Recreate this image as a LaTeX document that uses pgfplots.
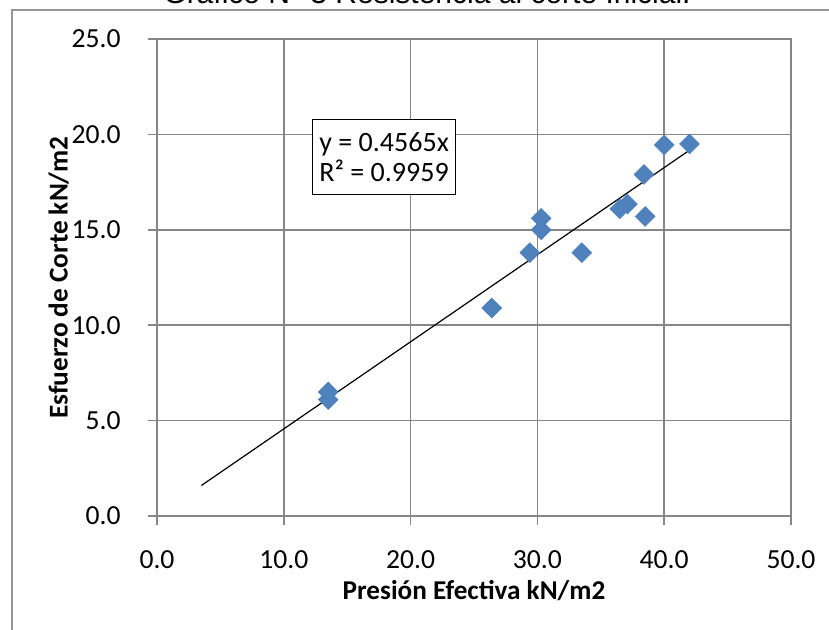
\documentclass[border=0pt]{standalone}
\usepackage{fontspec}
\setmainfont{Carlito}
\newfontfamily\arialfont{Liberation Sans}
\usepackage{pgfplots}
\pgfplotsset{compat=1.18}
\definecolor{gridgray}{RGB}{134,134,134}
\definecolor{frameGray}{RGB}{150,150,150}
\definecolor{markblue}{RGB}{79,129,189}
\begin{document}
\begin{tikzpicture}
\useasboundingbox (0,0) rectangle (414.5pt,315pt);
\draw[frameGray, line width=1pt] (6pt,-5pt) -- (6pt,310pt) -- (420pt,310pt);
\begin{axis}[
  at={(78.5pt,57pt)}, anchor=south west,
  scale only axis, width=317pt, height=238.5pt,
  xmin=0, xmax=50, ymin=0, ymax=25,
  xtick={0,10,20,30,40,50}, ytick={0,5,10,15,20,25},
  xtick pos=left, ytick pos=left,
  tick align=outside, major tick length=4.5pt,
  grid=major,
  major grid style={gridgray, line width=0.75pt},
  axis line style={gridgray, line width=0.75pt},
  every tick/.style={gridgray, line width=0.75pt},
  /pgf/number format/.cd, fixed, fixed zerofill, precision=1, assume math mode=true,
  /pgfplots/.cd,
  tick label style={font=\fontsize{13.8}{16}\selectfont, inner sep=0pt},
  xticklabel style={anchor=north, yshift=-12.5pt},
  yticklabel style={anchor=east, xshift=-13.5pt},
  xlabel={Presión Efectiva kN/m2},
  ylabel={Esfuerzo de Corte kN/m2},
  every axis x label/.style={at={(axis description cs:0.5,-0.1761)}, anchor=base, inner sep=0pt, font=\fontsize{13.6}{16}\selectfont\bfseries},
  every axis y label/.style={at={(axis description cs:-0.141,0.5)}, rotate=90, anchor=base, inner sep=0pt, font=\fontsize{13.6}{16}\selectfont\bfseries},
  title={Gráfico N° 3 Resistencia al corte Inicial.},
  every axis title/.style={at={(axis description cs:0.4259,1.0734)}, anchor=base, inner sep=0pt, font=\arialfont\fontsize{15}{18}\selectfont},
  clip=false,
]
\addplot[only marks, mark=square*, mark size=3.45pt, mark options={rotate=45, fill=markblue, draw=markblue}]
  coordinates {
    (13.5,6.5) (13.5,6.1) (26.4,10.9) (29.4,13.8) (30.3,15.0) (30.3,15.6)
    (33.5,13.8) (36.5,16.1) (37.1,16.35) (38.4,17.9) (38.5,15.7) (40.0,19.45) (42.0,19.5)
  };
\addplot[black, line width=0.6pt] coordinates {(3.5,1.598) (42.0,19.173)};
\node[draw=black, line width=0.5pt, fill=white, anchor=north west, align=left,
      minimum width=71.5pt, minimum height=37.5pt, inner xsep=3.5pt, inner ysep=3pt,
      font=\fontsize{14}{14.8}\selectfont]
  at (axis cs:12.22,20.81) {y = 0.4565x\\R² = 0.9959};
\end{axis}
\end{tikzpicture}
\end{document}
